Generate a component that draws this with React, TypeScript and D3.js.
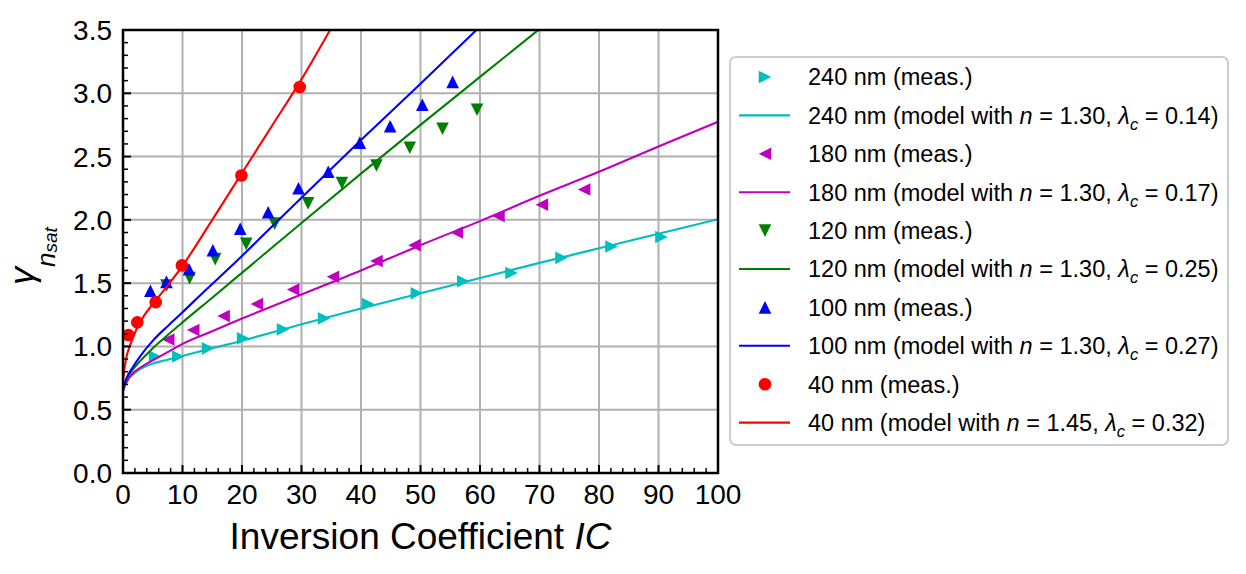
import React from "react";
import * as d3 from "d3";

// ---------- data ----------
const xTicks = [0, 10, 20, 30, 40, 50, 60, 70, 80, 90, 100];
const yTicks = [0, 0.5, 1.0, 1.5, 2.0, 2.5, 3.0, 3.5];

const sizes = ["240", "180", "120", "100", "40"];
const nVals = ["1.30", "1.30", "1.30", "1.30", "1.45"];
const lamVals = ["0.14", "0.17", "0.25", "0.27", "0.32"];
const colors = ["#00bfbf", "#bf00bf", "#008000", "#0000ff", "#ff0000"];
const markers = ["tri-right", "tri-left", "tri-down", "tri-up", "circle"];

// measured points
const meas240X = [5.4, 9.3, 14.3, 20.2, 26.9, 33.8, 41.2, 49.4, 57.2, 65.3, 73.7, 82.1, 90.5];
const meas240Y = [0.92, 0.92, 0.985, 1.064, 1.135, 1.222, 1.335, 1.42, 1.515, 1.58, 1.70, 1.79, 1.865];
const meas180X = [7.6, 11.8, 16.9, 22.5, 28.6, 35.3, 42.6, 49.0, 56.1, 63.1, 70.4, 77.5];
const meas180Y = [1.055, 1.13, 1.24, 1.335, 1.45, 1.55, 1.675, 1.80, 1.90, 2.03, 2.12, 2.24];
const meas120X = [7.3, 11.2, 15.5, 20.7, 25.5, 31.1, 36.8, 42.6, 48.2, 53.7, 59.5];
const meas120Y = [1.48, 1.54, 1.69, 1.81, 1.97, 2.13, 2.29, 2.43, 2.57, 2.72, 2.87];
const meas100X = [4.6, 7.3, 11.1, 15.1, 19.7, 24.4, 29.5, 34.5, 39.8, 44.9, 50.3, 55.4];
const meas100Y = [1.44, 1.51, 1.61, 1.76, 1.93, 2.06, 2.25, 2.38, 2.61, 2.74, 2.91, 3.09];
const meas40X = [0.9, 2.4, 5.5, 9.9, 19.9, 29.7];
const meas40Y = [1.09, 1.19, 1.35, 1.64, 2.35, 3.05];

// model curves
const model240X = [0, 0.3, 1, 1.7, 3, 5, 7.5, 10, 15, 20, 25, 30, 40, 50, 60, 70, 80, 90, 100];
const model240Y = [0.65, 0.69, 0.75, 0.78, 0.825, 0.865, 0.895, 0.925, 0.985, 1.045, 1.11, 1.175, 1.30, 1.42, 1.54, 1.66, 1.775, 1.89, 2.005];
const model180X = [0, 0.3, 1, 1.7, 3, 5, 7.5, 10, 15, 20, 30, 40, 50, 60, 70, 80, 90, 100];
const model180Y = [0.65, 0.69, 0.75, 0.79, 0.835, 0.89, 0.955, 1.02, 1.12, 1.22, 1.41, 1.60, 1.80, 1.99, 2.19, 2.38, 2.58, 2.775];
const model120X = [0, 0.3, 0.6, 1.7, 3, 5.1, 7.5, 10, 15, 21.1, 30, 40, 50, 60, 69.8];
const model120Y = [0.65, 0.70, 0.74, 0.82, 0.89, 0.99, 1.09, 1.19, 1.385, 1.625, 1.975, 2.365, 2.75, 3.13, 3.5];
const model100X = [0, 0.3, 0.6, 1.7, 3, 5.1, 7.5, 10, 14, 18, 25, 30, 40, 50, 59.4];
const model100Y = [0.65, 0.71, 0.75, 0.84, 0.93, 1.05, 1.16, 1.27, 1.45, 1.625, 1.945, 2.175, 2.63, 3.075, 3.5];
const model40X = [0, 0.3, 0.6, 1.2, 2.3, 3.5, 5.1, 7.5, 9.6, 15, 20, 25, 30, 34.8];
const model40Y = [0.725, 0.84, 0.92, 1.01, 1.14, 1.24, 1.34, 1.48, 1.61, 2.0, 2.37, 2.74, 3.11, 3.5];

const measX = [meas240X, meas180X, meas120X, meas100X, meas40X];
const measY = [meas240Y, meas180Y, meas120Y, meas100Y, meas40Y];
const modelX = [model240X, model180X, model120X, model100X, model40X];
const modelY = [model240Y, model180Y, model120Y, model100Y, model40Y];

// ---------- layout ----------
const W = 1246;
const H = 574;
const L = 123, R = 718, T = 30, B = 473;
const FONT = "'Liberation Sans', Arial, Helvetica, sans-serif";

function Marker({ type, cx, cy, color }: { type: string; cx: number; cy: number; color: string }) {
  const r = 6.3;
  if (type === "circle") return <circle cx={cx} cy={cy} r={r} fill={color} />;
  let pts: number[][] = [];
  if (type === "tri-right") pts = [[r, 0], [-r, -r], [-r, r]];
  if (type === "tri-left") pts = [[-r, 0], [r, -r], [r, r]];
  if (type === "tri-down") pts = [[0, r], [-r, -r], [r, -r]];
  if (type === "tri-up") pts = [[0, -r], [-r, r], [r, r]];
  return <polygon points={pts.map((p) => `${cx + p[0]},${cy + p[1]}`).join(" ")} fill={color} />;
}

export default function App() {
  const x = d3.scaleLinear().domain([0, 100]).range([L, R]);
  const y = d3.scaleLinear().domain([0, 3.5]).range([B, T]);
  const line = d3
    .line<[number, number]>()
    .x((d) => x(d[0]))
    .y((d) => y(d[1]))
    .curve(d3.curveMonotoneX);

  const xMinor = d3.range(0, 101, 2).filter((v) => v % 10 !== 0);
  const yMinor = d3.range(0, 36).map((v) => v / 10).filter((v) => Math.round(v * 10) % 5 !== 0);

  const rowY0 = 77;
  const rowStep = 38.4;

  return (
    <svg
      width={W}
      height={H}
      style={{ position: "absolute", left: 0, top: 0, background: "#fff" }}
      fontFamily={FONT}
    >
      <defs>
        <clipPath id="plotclip">
          <rect x={L} y={T} width={R - L} height={B - T} />
        </clipPath>
      </defs>
      <rect x={0} y={0} width={W} height={H} fill="#fff" />

      {/* grid */}
      <g stroke="#b0b0b0" strokeWidth={2}>
        {xTicks.map((t) => (
          <line key={"gx" + t} x1={x(t)} x2={x(t)} y1={T} y2={B} />
        ))}
        {yTicks.map((t) => (
          <line key={"gy" + t} x1={L} x2={R} y1={y(t)} y2={y(t)} />
        ))}
      </g>

      {/* series */}
      <g clipPath="url(#plotclip)">
        {sizes.map((s, i) => (
          <g key={"s" + s}>
            {measX[i].map((mx, j) => (
              <Marker key={j} type={markers[i]} cx={x(mx)} cy={y(measY[i][j])} color={colors[i]} />
            ))}
            <path
              d={line(modelX[i].map((mx, j) => [mx, modelY[i][j]] as [number, number])) || ""}
              fill="none"
              stroke={colors[i]}
              strokeWidth={2.1}
            />
          </g>
        ))}
      </g>

      {/* spines */}
      <rect x={L} y={T} width={R - L} height={B - T} fill="none" stroke="#000" strokeWidth={2.5} />

      {/* ticks */}
      <g stroke="#000">
        {xTicks.map((t) => (
          <line key={"tx" + t} x1={x(t)} x2={x(t)} y1={B} y2={B - 8} strokeWidth={2} />
        ))}
        {xMinor.map((t) => (
          <line key={"mx" + t} x1={x(t)} x2={x(t)} y1={B} y2={B - 5} strokeWidth={1.5} />
        ))}
        {yTicks.map((t) => (
          <line key={"ty" + t} x1={L} x2={L + 8} y1={y(t)} y2={y(t)} strokeWidth={2} />
        ))}
        {yMinor.map((t) => (
          <line key={"my" + t} x1={L} x2={L + 5} y1={y(t)} y2={y(t)} strokeWidth={1.5} />
        ))}
      </g>

      {/* tick labels */}
      <g fontSize={28} fill="#000">
        {xTicks.map((t) => (
          <text key={"lx" + t} x={x(t)} y={504} textAnchor="middle">
            {t}
          </text>
        ))}
        {yTicks.map((t) => (
          <text key={"ly" + t} x={112} y={y(t) + 10} textAnchor="end">
            {t.toFixed(1)}
          </text>
        ))}
      </g>

      {/* axis labels */}
      <text x={(L + R) / 2} y={549} textAnchor="middle" fontSize={37} fill="#000">
        Inversion Coefficient <tspan fontStyle="italic">IC</tspan>
      </text>
      <text transform="translate(34,256) rotate(-90)" textAnchor="middle" fill="#000" fontStyle="italic">
        <tspan fontSize={36}>γ</tspan>
        <tspan fontSize={26} dy={21}>n</tspan>
        <tspan fontSize={19} dy={2}>sat</tspan>
      </text>

      {/* legend */}
      <rect x={730} y={57} width={498} height={388} rx={6} fill="#fff" stroke="#cccccc" strokeWidth={2} />
      {sizes.map((s, i) => {
        const yMeas = rowY0 + rowStep * (2 * i);
        const yMod = rowY0 + rowStep * (2 * i + 1);
        return (
          <g key={"lg" + s} fontSize={23.5} fill="#000">
            <Marker type={markers[i]} cx={765} cy={yMeas} color={colors[i]} />
            <text x={808} y={yMeas + 8.4}>{s} nm (meas.)</text>
            <line x1={739} x2={790} y1={yMod} y2={yMod} stroke={colors[i]} strokeWidth={2.1} />
            <text x={808} y={yMod + 8.4}>
              {s} nm (model with <tspan fontStyle="italic">n</tspan> = {nVals[i]},{" "}
              <tspan fontStyle="italic">λ</tspan>
              <tspan fontStyle="italic" fontSize={16.5} dy={6}>c</tspan>
              <tspan dy={-6}> = {lamVals[i]})</tspan>
            </text>
          </g>
        );
      })}
    </svg>
  );
}
